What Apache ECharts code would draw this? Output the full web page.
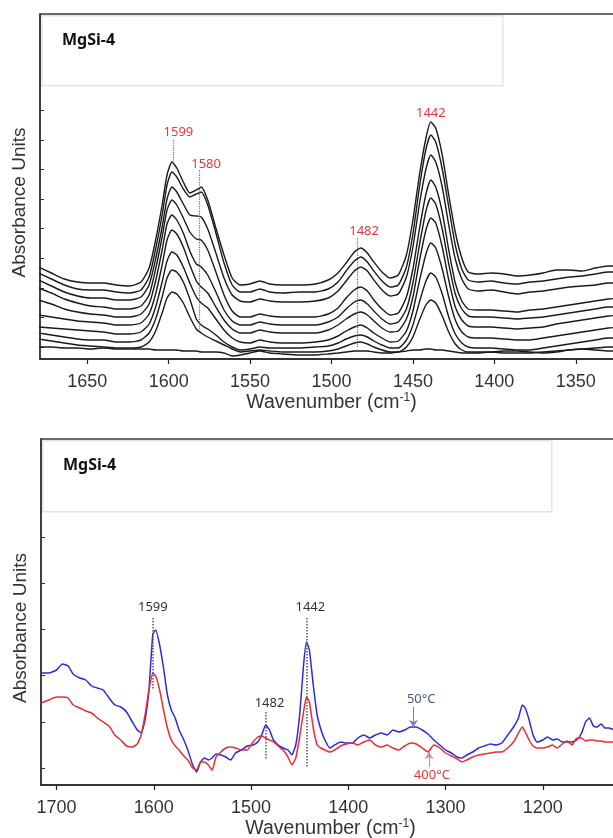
<!DOCTYPE html>
<html>
<head>
<meta charset="utf-8">
<script src="https://cdn.jsdelivr.net/npm/echarts@6/dist/echarts.min.js"></script>
<style>
  html, body { margin: 0; padding: 0; background: #fff; }
  #chart { width: 613px; height: 838px; }
</style>
</head>
<body>
<div id="chart"></div>
<script>
// ---- top panel: 10 spectra, heights above the lowest tick (arbitrary units)
var wnTop = [1680, 1672, 1664, 1656, 1648, 1640, 1632, 1624, 1617, 1612,
  1608, 1604, 1601, 1598, 1595, 1591, 1587, 1583, 1580, 1576,
  1571, 1566, 1561, 1556, 1550, 1544, 1538, 1530, 1520, 1510,
  1502, 1496, 1491, 1486, 1482, 1478, 1474, 1469, 1464, 1459,
  1454, 1450, 1446, 1442, 1439, 1436, 1432, 1428, 1424, 1420,
  1416, 1410, 1402, 1394, 1386, 1378, 1370, 1362, 1354, 1346,
  1338, 1330, 1322];

var topC1 = [80, 74, 68, 65, 64, 64, 62, 61, 65, 79,
  107, 142, 172, 185, 179, 165, 154, 157, 160, 147,
  119, 92, 69, 62, 63, 66, 63, 62, 62, 63,
  67, 74, 84, 95, 99, 94, 85, 75, 69, 72,
  92, 127, 172, 209, 225, 219, 192, 152, 115, 89,
  75, 73, 74, 73, 71, 72, 74, 77, 77, 76,
  79, 81, 81];
var topC2 = [74, 68, 62, 58, 57, 57, 55, 54, 57, 70,
  98, 132, 162, 175, 170, 158, 150, 153, 155, 142,
  114, 84, 62, 55, 55, 58, 55, 54, 55, 55,
  58, 65, 76, 86, 90, 85, 76, 66, 60, 62,
  80, 113, 160, 198, 212, 205, 178, 140, 102, 78,
  67, 65, 66, 64, 63, 65, 66, 68, 70, 71,
  73, 75, 75];
var topC3 = [67, 61, 55, 51, 49, 49, 47, 47, 50, 62,
  88, 120, 148, 160, 155, 143, 132, 131, 130, 118,
  94, 69, 52, 46, 45, 48, 46, 45, 45, 46,
  49, 56, 66, 76, 80, 76, 67, 57, 51, 53,
  70, 100, 143, 178, 192, 185, 160, 122, 88, 68,
  58, 56, 57, 55, 53, 55, 56, 58, 60, 61,
  62, 64, 64];
var topC4 = [59, 54, 48, 44, 41, 40, 38, 38, 41, 52,
  78, 110, 137, 147, 142, 129, 115, 108, 107, 97,
  75, 52, 36, 30, 30, 33, 31, 30, 30, 30,
  33, 39, 49, 57, 60, 56, 47, 38, 32, 34,
  50, 78, 118, 153, 167, 160, 135, 97, 64, 46,
  38, 37, 37, 36, 35, 37, 38, 40, 42, 44,
  46, 48, 49];
var topC5 = [47, 43, 38, 35, 33, 32, 30, 30, 33, 43,
  66, 97, 123, 132, 127, 114, 96, 83, 80, 72,
  55, 37, 26, 22, 22, 25, 23, 22, 22, 22,
  25, 30, 38, 45, 47, 43, 36, 28, 23, 25,
  38, 64, 102, 136, 149, 143, 118, 83, 53, 38,
  31, 30, 30, 29, 28, 29, 30, 32, 34, 36,
  38, 40, 40];
var topC6 = [32, 30, 28, 26, 25, 24, 22, 22, 24, 33,
  53, 82, 107, 117, 113, 100, 82, 66, 60, 54,
  40, 27, 18, 14, 14, 17, 15, 14, 14, 14,
  17, 22, 28, 33, 35, 32, 26, 19, 15, 16,
  28, 50, 86, 117, 129, 124, 100, 67, 40, 27,
  21, 20, 20, 19, 18, 19, 20, 23, 25, 27,
  29, 31, 32];
var topC7 = [20, 19, 18, 17, 16, 15, 13, 13, 15, 23,
  40, 65, 86, 95, 92, 80, 64, 50, 44, 39,
  28, 17, 9, 5, 4, 7, 5, 4, 4, 5,
  7, 11, 16, 20, 22, 19, 14, 9, 5, 6,
  16, 36, 66, 93, 104, 99, 78, 50, 27, 15,
  10, 9, 9, 8, 7, 7, 9, 11, 13, 15,
  17, 19, 20];
var topC8 = [14, 12, 10, 8, 7, 7, 5, 5, 7, 14,
  28, 50, 69, 77, 75, 65, 48, 28, 22, 18,
  12, 5, 0, -3, -2, 0, -1, -1, -1, 0,
  1, 4, 8, 11, 12, 10, 6, 2, -1, -1,
  7, 22, 45, 66, 74, 70, 53, 30, 13, 4,
  0, -1, -1, -2, -3, -3, -1, 1, 3, 5,
  7, 9, 9];
var topC9 = [8, 6, 4, 2, 1, 0, -1, -1, 0, 5,
  16, 34, 49, 55, 53, 44, 30, 18, 14, 10,
  6, 2, -2, -5, -4, -3, -4, -5, -5, -5,
  -4, -2, 1, 4, 5, 3, 0, -3, -5, -5,
  0, 10, 27, 42, 47, 44, 31, 15, 3, -3,
  -5, -5, -5, -6, -6, -6, -5, -4, -3, -2,
  -1, 0, 0];
var topC10 = [0, 0, -1, -1, -2, -1, -2, -2, -2, -2,
  -3, -3, -3, -3, -3, -4, -4, -4, -5, -5,
  -5, -6, -9, -8, -6, -4, -6, -7, -8, -8,
  -7, -6, -5, -4, -4, -4, -5, -6, -6, -5,
  -4, -3, -3, -2, -2, -3, -3, -4, -5, -6,
  -6, -6, -5, -4, -4, -5, -6, -5, -3, -2,
  -3, -4, -4];

// ---- bottom panel: 50 °C (blue) and 400 °C (red)
var wnBottom = [1716, 1708, 1700, 1694, 1688, 1683, 1676, 1670, 1664, 1658,
  1652, 1646, 1640, 1634, 1628, 1622, 1617, 1613, 1609, 1605,
  1601, 1598, 1594, 1590, 1586, 1582, 1578, 1574, 1570, 1565,
  1560, 1556, 1552, 1548, 1544, 1540, 1536, 1531, 1526, 1521,
  1516, 1510, 1504, 1498, 1493, 1489, 1485, 1481, 1477, 1472,
  1467, 1462, 1458, 1454, 1450, 1446, 1443, 1440, 1436, 1432,
  1428, 1424, 1419, 1414, 1408, 1402, 1396, 1390, 1384, 1378,
  1372, 1366, 1360, 1354, 1348, 1342, 1336, 1330, 1324, 1318,
  1312, 1306, 1300, 1294, 1288, 1283, 1278, 1272, 1266, 1260,
  1254, 1248, 1242, 1236, 1230, 1225, 1221, 1218, 1214, 1210,
  1206, 1200, 1195, 1190, 1185, 1180, 1175, 1170, 1165, 1160,
  1156, 1152, 1148, 1144, 1140, 1136, 1132, 1126, 1120];

var blue50 = [95, 95, 98, 104, 102, 94, 90, 88, 82, 80,
  78, 70, 63, 61, 56, 46, 38, 35, 48, 78,
  134, 138, 123, 100, 73, 58, 50, 38, 30, 18,
  3, -4, 6, 10, 8, 10, 14, 13, 11, 8,
  15, 18, 22, 23, 26, 33, 43, 38, 28, 23,
  20, 18, 13, 23, 53, 103, 126, 118, 83, 53,
  38, 28, 20, 23, 26, 25, 25, 30, 33, 30,
  33, 35, 33, 38, 36, 38, 41, 41, 38, 34,
  28, 23, 18, 15, 11, 10, 13, 16, 20, 22,
  24, 23, 25, 33, 41, 50, 63, 60, 48, 33,
  26, 28, 31, 28, 29, 26, 26, 26, 28, 35,
  46, 50, 42, 41, 44, 40, 40, 38, 38];

var red400 = [65, 68, 71, 71, 70, 63, 60, 57, 55, 50,
  46, 42, 33, 28, 22, 21, 24, 33, 53, 78,
  95, 92, 78, 58, 40, 28, 22, 18, 13, 8,
  0, -2, 6, 6, 3, -2, 11, 16, 20, 21,
  20, 18, 18, 26, 31, 32, 30, 28, 26, 22,
  18, 11, 3, 10, 31, 56, 71, 66, 40, 23,
  20, 18, 16, 18, 22, 24, 25, 23, 26, 28,
  23, 21, 23, 20, 18, 22, 25, 24, 20, 16,
  23, 20, 15, 12, 9, 6, 8, 11, 13, 14,
  15, 16, 16, 20, 26, 35, 41, 36, 28, 22,
  20, 20, 21, 23, 20, 24, 27, 23, 30, 30,
  27, 28, 28, 27, 27, 26, 26, 26, 26];

// ---- ticks
var xTicksTop = [1350, 1400, 1450, 1500, 1550, 1600, 1650];
var xTicksBottom = [1200, 1300, 1400, 1500, 1600, 1700];
var yTicksTop = [0, 29.6, 59.2, 88.8, 118.4, 148, 177.6, 207.2, 236.8];
var yTicksBottom = [0, 46.2, 92.4, 138.6, 184.8, 231, 277.2, 323.4];

// ---- peak annotations: [label, label x, label y, line x, line y from, line y to]
var peaksTop = [
  ['1599', 1594, 215, 1597, 207, 185],
  ['1580', 1577, 183, 1581, 177, 17],
  ['1482', 1480, 116, 1484, 109, 0],
  ['1442', 1439, 234, null, null, null]
];
var peaksBottom = [
  ['1599', 1601, 161, 1601, 150, 78],
  ['1442', 1439, 161, 1443, 150, 0],
  ['1482', 1481, 65, 1485, 56, 8]
];
// temperature labels: [label, x, y, arrow x, arrow from, arrow to]
var tempLabels = [
  ['50°C', 1325, 69, 1333, 61, 41],
  ['400°C', 1314, -7, 1317, 1, 16]
];

function pairs(xs, ys) {
  return xs.map(function (x, i) { return [x, ys[i]]; });
}

var chart = echarts.init(document.getElementById('chart'), null, { renderer: 'canvas' });

var axisFont = 'Liberation Sans, Arial, sans-serif';
var noteFont = 'Noto Sans, sans-serif';
var red = '#e8353f';

function xAxisCfg(idx, min, max, ticks, nameGap, namePad) {
  return {
    gridIndex: idx, type: 'value', inverse: true, min: min, max: max,
    splitLine: { show: false },
    axisLine: { onZero: false, lineStyle: { color: '#222', width: 1.5 } },
    axisTick: { customValues: ticks, length: 5, lineStyle: { color: '#222', width: 1.2 } },
    axisLabel: {
      customValues: ticks, fontSize: 18, color: '#333', margin: 14, fontFamily: axisFont,
      formatter: function (v) { return String(v); }
    },
    name: '{a|Wavenumber (cm}{s|-1}{a|)}',
    nameLocation: 'middle', nameGap: nameGap,
    nameTextStyle: {
      padding: namePad,
      rich: {
        a: { fontSize: 19.5, color: '#333', fontFamily: axisFont, lineHeight: 21 },
        s: { fontSize: 12, color: '#333', fontFamily: axisFont, verticalAlign: 'top', lineHeight: 21 }
      }
    }
  };
}
function yAxisCfg(idx, min, max, ticks) {
  return {
    gridIndex: idx, type: 'value', min: min, max: max,
    splitLine: { show: false },
    axisLine: { onZero: false, lineStyle: { color: '#333', width: 1.5 } },
    axisTick: { customValues: ticks, inside: true, length: 4, lineStyle: { color: '#333' } },
    axisLabel: { show: false },
    name: 'Absorbance Units', nameLocation: 'middle', nameGap: 10.5, nameRotate: 90,
    nameTextStyle: { fontSize: 19, color: '#333', fontFamily: axisFont, padding: [0, 32, 0, 0] }
  };
}

function blackLine(vals) {
  return {
    type: 'line', xAxisIndex: 0, yAxisIndex: 0, data: pairs(wnTop, vals),
    showSymbol: false, smooth: 0.2, silent: true,
    lineStyle: { color: '#1a1a1a', width: 1.4 }
  };
}

var topSeries = [topC1, topC2, topC3, topC4, topC5, topC6, topC7, topC8, topC9, topC10].map(blackLine);

// annotations ride on the last (flat) spectrum, raised above the others
var noteHost = topSeries[9];
noteHost.z = 6;
noteHost.markLine = {
  silent: true, symbol: 'none', label: { show: false },
  lineStyle: { type: 'dotted', color: red, width: 1.2 },
  data: peaksTop.filter(function (p) { return p[3] !== null; }).map(function (p) {
    return [{ coord: [p[3], p[4]] }, { coord: [p[3], p[5]] }];
  })
};
noteHost.markPoint = {
  silent: true, symbol: 'circle', symbolSize: 1, itemStyle: { color: 'rgba(0,0,0,0)' },
  label: { show: true, position: 'inside', formatter: '{b}', color: red, fontSize: 13, fontFamily: noteFont },
  data: peaksTop.map(function (p) { return { name: p[0], coord: [p[1], p[2]] }; })
};

var blueSeries = {
  type: 'line', xAxisIndex: 1, yAxisIndex: 1, data: pairs(wnBottom, blue50),
  showSymbol: false, smooth: 0.15, silent: true, z: 3,
  lineStyle: { color: '#2a2ae0', width: 1.5 }
};
var redSeries = {
  type: 'line', xAxisIndex: 1, yAxisIndex: 1, data: pairs(wnBottom, red400),
  showSymbol: false, smooth: 0.15, silent: true, z: 4,
  lineStyle: { color: '#ec2d2d', width: 1.5 }
};

var bottomLines = peaksBottom.map(function (p) {
  return [{ coord: [p[3], p[4]], lineStyle: { type: 'dotted', color: '#555', width: 1.5 }, symbol: 'none' },
          { coord: [p[3], p[5]], symbol: 'none' }];
});
tempLabels.forEach(function (t, i) {
  var c = i === 0 ? '#7a86a0' : '#de8a8a';
  bottomLines.push([{ coord: [t[3], t[4]], lineStyle: { type: 'solid', color: c, width: 1 }, symbol: 'none' },
                    { coord: [t[3], t[5]], symbol: 'arrow', symbolSize: 7, itemStyle: { color: c } }]);
});
redSeries.markLine = {
  silent: true, symbol: 'none', label: { show: false }, data: bottomLines
};
redSeries.markPoint = {
  silent: true, symbol: 'circle', symbolSize: 1, itemStyle: { color: 'rgba(0,0,0,0)' },
  label: { show: true, position: 'inside', formatter: '{b}', color: '#333', fontSize: 13, fontFamily: noteFont },
  data: peaksBottom.map(function (p) { return { name: p[0], coord: [p[1], p[2]] }; })
    .concat(tempLabels.map(function (t, i) {
      return { name: t[0], coord: [t[1], t[2]], label: { color: i === 0 ? '#4b5a7d' : '#e03a3a' } };
    }))
};

function inset(x, y, w, h) {
  return [
    { type: 'rect', left: x, top: y, z: 50, silent: true,
      shape: { width: w, height: h },
      style: { fill: '#fff', stroke: '#e4e4e4', lineWidth: 1.5 } },
    { type: 'text', left: x + 21, top: y + 17, z: 51, silent: true,
      style: { text: 'MgSi-4', fill: '#111', font: 'bold 16px Noto Sans, sans-serif' } }
  ];
}

chart.setOption({
  animation: false,
  backgroundColor: '#fff',
  grid: [
    { left: 40, top: 14, width: 583, height: 345, outerBoundsMode: 'none', containLabel: false,
      show: true, borderColor: '#3a3a3a', borderWidth: 1.5, backgroundColor: '#fff' },
    { left: 41, top: 439, width: 599, height: 346, outerBoundsMode: 'none', containLabel: false,
      show: true, borderColor: '#3a3a3a', borderWidth: 1.5, backgroundColor: '#fff' }
  ],
  xAxis: [
    xAxisCfg(0, 1321, 1679, xTicksTop, 33, [0, 0, 0, 0]),
    xAxisCfg(1, 1100, 1716, xTicksBottom, 32, [0, 20, 0, 0])
  ],
  yAxis: [
    yAxisCfg(0, -12, 333, yTicksTop),
    yAxisCfg(1, -17, 329, yTicksBottom)
  ],
  graphic: inset(41, 15, 461, 70).concat(inset(42, 440, 509, 71)),
  series: topSeries.concat([blueSeries, redSeries])
});
</script>
</body>
</html>
